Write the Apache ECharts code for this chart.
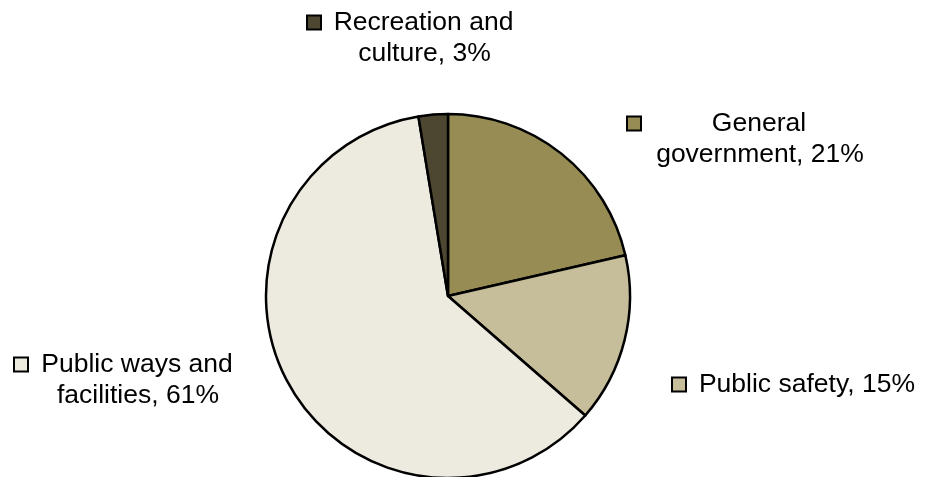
<!DOCTYPE html>
<html>
<head>
<meta charset="utf-8">
<script src="https://cdn.jsdelivr.net/npm/echarts@6/dist/echarts.min.js"></script>
<style>html,body{margin:0;padding:0;background:#fff}#c{width:926px;height:477px}</style>
</head>
<body>
<div id="c"></div>
<script>
const categories = ['General\ngovernment', 'Public safety', 'Public ways and\nfacilities', 'Recreation and\nculture'];
const values = [21.4, 15.0, 61.0, 2.6];
const colors = ['#968C54', '#C6BE9A', '#EDEBE0', '#4D4630'];

// label layout: [left x, top y, text block width]
const labelPos = [[628, 108, 208], [673, 369, 215], [15, 349, 190], [308, 7, 177]];

const chart = echarts.init(document.getElementById('c'), null, {renderer: 'canvas'});
const data = categories.map((name, i) => {
  const rich = {
    m: {width: 12, height: 12, backgroundColor: colors[i], borderColor: '#000', borderWidth: 2, verticalAlign: 'middle'},
    g: {width: 14},
    sp: {width: 28},
    t: {fontSize: 26.5, lineHeight: 31, color: '#000', align: 'center', width: labelPos[i][2], fontFamily: 'Liberation Sans, Arial, sans-serif'}
  };
  return {
    name, value: values[i],
    itemStyle: {color: colors[i]},
    label: {rich}
  };
});

chart.setOption({
  animation: false,
  series: [{
    type: 'pie',
    center: [448, 296],
    radius: 182,
    startAngle: 90,
    clockwise: true,
    percentPrecision: 0,
    itemStyle: {borderColor: '#000', borderWidth: 2.5},
    label: {
      show: true,
      position: 'outside',
      fontFamily: 'Liberation Sans, Arial, sans-serif',
      fontSize: 26.5,
      lineHeight: 31,
      color: '#000',
      formatter: p => {
        const lines = (p.name + ', ' + p.percent + '%').split('\n');
        return lines.map((l, k) => (k === 0 ? '{m|}{g|}' : '{sp|}') + '{t|' + l + '}').join('\n');
      }
    },
    labelLine: {show: false},
    labelLayout: p => {
      const lp = labelPos[p.dataIndex];
      return {x: lp[0], y: lp[1], align: 'left', verticalAlign: 'top'};
    },
    emphasis: {disabled: true},
    data
  }]
});
</script>
</body>
</html>
